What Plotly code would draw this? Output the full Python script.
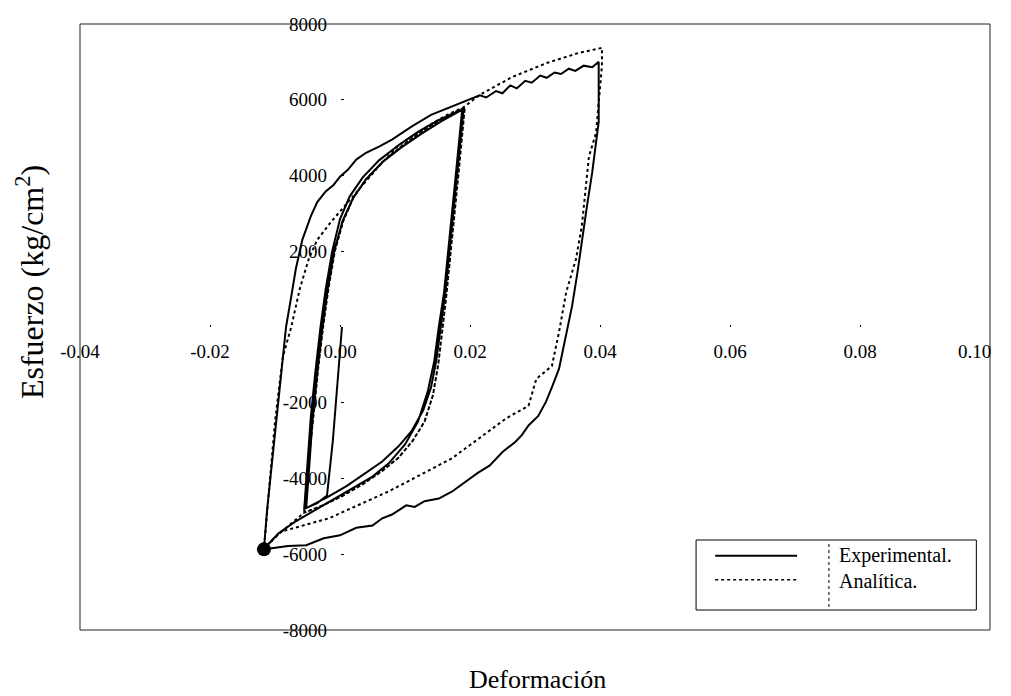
import plotly.graph_objects as go

# ---------------- data (strain, stress kg/cm2) ----------------
# Experimental
exp_init_x = [0.0003, -0.0004, -0.0011, -0.0020, -0.0035, -0.0055]
exp_init_y = [0, -1500, -3000, -4450, -4650, -4800]

exp_up1_x = [-0.0055, -0.0050, -0.0045, -0.0038, -0.0030, -0.0022, -0.0012, 0.0000, 0.0015, 0.0035, 0.0060, 0.0090, 0.0120, 0.0150, 0.0175, 0.0190]
exp_up1_y = [-4800, -3600, -2400, -1200, 0, 1000, 2000, 2850, 3450, 3950, 4400, 4800, 5150, 5450, 5650, 5750]

exp_dn1_x = [0.0190, 0.0180, 0.0170, 0.0162, 0.0155, 0.0148, 0.0140, 0.0128, 0.0110, 0.0090, 0.0065, 0.0040, 0.0010, -0.0020, -0.0052]
exp_dn1_y = [5750, 4000, 2200, 900, 0, -900, -1600, -2200, -2750, -3150, -3550, -3850, -4200, -4500, -4780]

exp_up2_x = [-0.0052, -0.0047, -0.0042, -0.0035, -0.0027, -0.0019, -0.0009, 0.0004, 0.0020, 0.0040, 0.0065, 0.0095, 0.0125, 0.0155, 0.0178, 0.0188]
exp_up2_y = [-4780, -3600, -2400, -1200, 0, 1000, 2000, 2800, 3400, 3900, 4350, 4750, 5100, 5420, 5640, 5740]

exp_dn2_x = [0.0188, 0.0178, 0.0168, 0.0160, 0.0152, 0.0145, 0.0135, 0.0120, 0.0100, 0.0075, 0.0050, 0.0020, -0.0010, -0.0040, -0.0070, -0.0095, -0.0117]
exp_dn2_y = [5740, 4000, 2200, 900, 0, -900, -1700, -2500, -3100, -3600, -3950, -4250, -4550, -4850, -5150, -5450, -5860]

exp_up3_x = [-0.0117, -0.0112, -0.0105, -0.0098, -0.0090, -0.0083, -0.0075, -0.0068, -0.0058, -0.0045, -0.0035, -0.0022, -0.0010, 0.0000, 0.0012, 0.0025, 0.0040,
             0.0060, 0.0080, 0.0110, 0.0140, 0.0170, 0.0200, 0.0215, 0.0225, 0.0240, 0.0250, 0.0262, 0.0272, 0.0285, 0.0295, 0.0308, 0.0318, 0.0330, 0.0340, 0.0352, 0.0362, 0.0375, 0.0388, 0.0398]
exp_up3_y = [-5860, -4800, -3600, -2420, -1200, 0, 800, 1530, 2300, 2920, 3300, 3580, 3750, 3970, 4150, 4420, 4600,
             4760, 4950, 5290, 5600, 5800, 6000, 6120, 6060, 6230, 6170, 6380, 6300, 6500, 6450, 6640, 6580, 6720, 6680, 6820, 6760, 6900, 6860, 7000]

exp_dn3_x = [0.0398, 0.0398, 0.0393, 0.0388, 0.0380, 0.0373, 0.0365, 0.0357, 0.0347, 0.0337, 0.0327, 0.0317, 0.0305, 0.0290, 0.0280, 0.0270, 0.0250, 0.0230, 0.0212, 0.0194, 0.0172, 0.0152,
             0.0130, 0.0115, 0.0102, 0.0080, 0.0065, 0.0050, 0.0025, 0.0000, -0.0025, -0.0052, -0.0080, -0.0105, -0.0117]
exp_dn3_y = [7000, 5420, 4700, 4080, 3200, 2320, 1400, 550, -300, -1100, -1550, -1970, -2350, -2600, -2850, -3030, -3300, -3660, -3850, -4080, -4350, -4530,
             -4600, -4750, -4710, -4950, -5050, -5240, -5300, -5500, -5580, -5760, -5780, -5840, -5870]

# Analytical
ana_up1_x = [-0.0055, -0.0048, -0.0040, -0.0033, -0.0026, -0.0018, -0.0008, 0.0005, 0.0020, 0.0040, 0.0065, 0.0095, 0.0125, 0.0155, 0.0178, 0.0192]
ana_up1_y = [-4900, -3500, -2200, -1000, 0, 1000, 2000, 2800, 3400, 3900, 4350, 4780, 5150, 5480, 5680, 5800]

ana_dn1_x = [0.0192, 0.0182, 0.0172, 0.0164, 0.0158, 0.0151, 0.0143, 0.0130, 0.0112, 0.0090, 0.0065, 0.0035, 0.0005, -0.0025, -0.0055]
ana_dn1_y = [5800, 4000, 2200, 900, 0, -1000, -1800, -2500, -3000, -3450, -3800, -4150, -4450, -4700, -4900]

ana_dn2_x = [0.0192, 0.0182, 0.0172, 0.0164, 0.0158, 0.0151, 0.0143, 0.0130, 0.0112, 0.0090, 0.0065, 0.0035, 0.0005, -0.0025, -0.0055, -0.0080, -0.0100, -0.0117]
ana_dn2_y = [5800, 4000, 2200, 900, 0, -1000, -1800, -2500, -3000, -3450, -3800, -4150, -4450, -4700, -4900, -5250, -5550, -5850]

ana_up2_x = [-0.0117, -0.0110, -0.0100, -0.0088, -0.0075, -0.0062, -0.0048, -0.0035, -0.0015, 0.0005, 0.0030, 0.0060, 0.0090, 0.0130, 0.0165, 0.0190,
             0.0215, 0.0265, 0.0318, 0.0368, 0.0403]
ana_up2_y = [-5850, -4500, -2500, -800, 0, 1000, 1800, 2300, 2750, 3150, 3650, 4250, 4800, 5250, 5600, 5800,
             6130, 6600, 6970, 7240, 7370]

ana_dn3_x = [0.0403, 0.0403, 0.0394, 0.0383, 0.0372, 0.0363, 0.0348, 0.0337, 0.0326, 0.0302, 0.0290, 0.0255, 0.0172, 0.0075, -0.0017, -0.0090, -0.0117]
ana_dn3_y = [7370, 6900, 5130, 4500, 2660, 1790, 920, -130, -1030, -1370, -2080, -2420, -3470, -4340, -5050, -5400, -5850]

# Marked reversal point
dot_x = [-0.0117]
dot_y = [-5870]

# Axis ticks
x_ticks = [-0.04, -0.02, 0.00, 0.02, 0.04, 0.06, 0.08, 0.10]
x_labels = ["-0.04", "-0.02", "0.00", "0.02", "0.04", "0.06", "0.08", "0.10"]
y_ticks = [-8000, -6000, -4000, -2000, 2000, 4000, 6000, 8000]
y_labels = ["-8000", "-6000", "-4000", "-2000", "2000", "4000", "6000", "8000"]

series_names = ["Experimental.", "Analítica."]

exp_x = exp_init_x + exp_up1_x + exp_dn1_x + exp_up2_x + exp_dn2_x + exp_up3_x + exp_dn3_x
exp_y = exp_init_y + exp_up1_y + exp_dn1_y + exp_up2_y + exp_dn2_y + exp_up3_y + exp_dn3_y
ana_x = ana_up1_x + ana_dn1_x + ana_up1_x + ana_dn2_x + ana_up2_x + ana_dn3_x
ana_y = ana_up1_y + ana_dn1_y + ana_up1_y + ana_dn2_y + ana_up2_y + ana_dn3_y

FONT = "Liberation Serif"

# the last label sits pulled inside the frame (as in the original): drawn as a right-anchored text
x_text = x_labels[:-1] + [""]

fig = go.Figure()
fig.add_trace(go.Scatter(x=exp_x, y=exp_y, mode="lines", name=series_names[0],
                         line=dict(color="black", width=2), showlegend=False))
fig.add_trace(go.Scatter(x=ana_x, y=ana_y, mode="lines", name=series_names[1],
                         line=dict(color="black", width=2, dash="dot"), showlegend=False))
fig.add_trace(go.Scatter(x=dot_x, y=dot_y, mode="markers", showlegend=False,
                         marker=dict(color="black", size=14)))

# legend drawn as a boxed key (paper coordinates)
LX0, LX1, LY0, LY1 = 0.677, 0.985, 0.033, 0.1485
ROW1, ROW2 = 0.1225, 0.0830
shapes = [
    dict(type="rect", xref="paper", yref="paper", x0=0, y0=0, x1=1, y1=1,
         line=dict(color="#222", width=1)),
    dict(type="rect", xref="paper", yref="paper", x0=LX0, y0=LY0, x1=LX1, y1=LY1,
         line=dict(color="black", width=1), fillcolor="white"),
    dict(type="line", xref="paper", yref="paper", x0=0.698, x1=0.788, y0=ROW1, y1=ROW1,
         line=dict(color="black", width=2)),
    dict(type="line", xref="paper", yref="paper", x0=0.698, x1=0.788, y0=ROW2, y1=ROW2,
         line=dict(color="black", width=1.5, dash="dot")),
    dict(type="line", xref="paper", yref="paper", x0=0.823, x1=0.823, y0=0.038, y1=0.1436,
         line=dict(color="black", width=1, dash="dot")),
]

annotations = [
    dict(text="Esfuerzo (kg/cm<sup>2</sup>)", xref="paper", yref="paper",
         x=-0.055, y=0.574, xanchor="center", yanchor="middle", textangle=-90, showarrow=False,
         font=dict(family=FONT, size=32)),
    dict(text="Deformación", xref="paper", yref="paper",
         x=0.503, y=-0.0825, xanchor="center", yanchor="middle", showarrow=False,
         font=dict(family=FONT, size=26)),
    dict(text=series_names[0] + "<br>" + series_names[1], xref="paper", yref="paper",
         x=0.832, y=(ROW1 + ROW2) / 2, xanchor="left", yanchor="middle", align="left",
         showarrow=False, font=dict(family=FONT, size=20)),
    dict(text=x_labels[-1], xref="x", yref="y", x=x_ticks[-1], y=0,
         xanchor="right", yanchor="middle", xshift=3, yshift=-24, showarrow=False,
         font=dict(family=FONT, size=19)),
]

fig.update_layout(
    width=1003, height=688,
    margin=dict(l=72, r=21, t=16, b=66),
    paper_bgcolor="white", plot_bgcolor="white",
    font=dict(family=FONT, size=19, color="black"),
    xaxis=dict(range=[-0.04, 0.10], anchor="free", position=0.5, automargin=False,
               tickvals=x_ticks, ticktext=x_text, showgrid=False, zeroline=False,
               showline=False, ticks="inside", ticklen=2, tickcolor="black",
               ticklabelstandoff=11, tickfont=dict(family=FONT, size=19)),
    yaxis=dict(range=[-8000, 8000], anchor="free", position=0.2857, automargin=False,
               tickvals=y_ticks, ticktext=y_labels, showgrid=False, zeroline=False,
               showline=False, ticks="inside", ticklen=3, tickcolor="black",
               ticklabelstandoff=13, ticklabeloverflow="allow",
               tickfont=dict(family=FONT, size=19)),
    showlegend=False,
    shapes=shapes,
    annotations=annotations,
)

fig.write_html("out.html")
